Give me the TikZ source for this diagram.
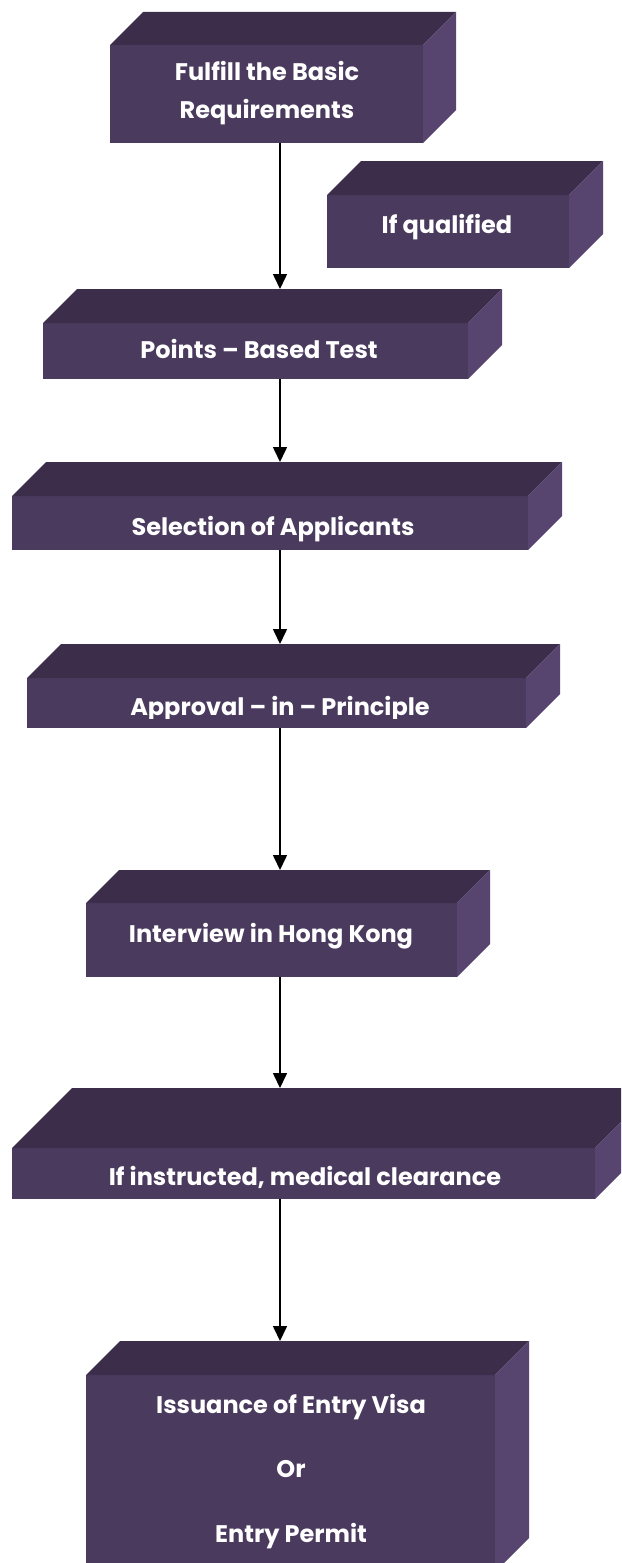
\documentclass[tikz,border=0pt]{standalone}
\usepackage{fontspec}
\setmainfont{Poppins}
\usetikzlibrary{arrows.meta,calc}
\definecolor{frontc}{HTML}{4A3A5E}
\definecolor{topc}{HTML}{3C2D4A}
\definecolor{sidec}{HTML}{574570}
\tikzset{
  frontface/.style={fill=frontc, draw=none, inner sep=0pt, outer sep=0pt},
  lbl/.style={text=white, font=\fontsize{24}{28}\selectfont\bfseries, inner sep=0pt, anchor=base},
  arr/.style={line width=1.6pt, -{Triangle[length=15pt,width=14pt]}},
}
% name, x1, y1, x2, y2, depth
\newcommand\cubebox[6]{%
  \node[frontface, minimum width={(#4-#2)*1pt}, minimum height={(#5-#3)*1pt}] (#1) at ({(#2+#4)/2},{(#3+#5)/2}) {};
  \fill[topc] (#1.north west) -- ++(#6,-#6) -- ([shift={(#6,-#6)}]#1.north east) -- (#1.north east) -- cycle;
  \fill[sidec] (#1.north east) -- ++(#6,-#6) -- ([shift={(#6,-#6)}]#1.south east) -- (#1.south east) -- cycle;
  \coordinate (#1-top) at ([shift={(#6,-#6)}]#1.north);
}
\begin{document}
\begin{tikzpicture}[x=1pt,y=-1pt]
\path[use as bounding box, clip] (0,0) rectangle (621,1563);
\fill[white] (0,0) rectangle (621,1563);
\coordinate (ax) at (280,0);

\cubebox{b1}{110}{45}{423}{143}{33}
\cubebox{b2}{327}{195}{569}{268}{34}
\cubebox{b3}{43}{323}{468}{379}{34}
\cubebox{b4}{12}{496}{528}{550}{34}
\cubebox{b5}{27}{678}{526}{728}{34}
\cubebox{b6}{86}{903}{457}{977}{33}
\cubebox{b7}{12}{1148}{595}{1199}{60}
\cubebox{b8}{86}{1375}{495}{1572}{34}

\node[lbl] (t1a) at (267,81) {Fulfill the Basic};
\node[lbl] (t1b) at (267,118) {Requirements};
\node[lbl] (t2) at (447,233) {If qualified};
\node[lbl] (t3) at (259,358) {Points – Based Test};
\node[lbl] (t4) at (273,535) {Selection of Applicants};
\begin{scope}
\clip (0,600) rectangle (621,718);
\node[lbl] (t5) at (280,715) {Approval – in – Principle};
\end{scope}
\node[lbl] (t6) at (271,942) {Interview in Hong Kong};
\node[lbl] (t7) at (305,1185) {If instructed, medical clearance};
\node[lbl] (t8a) at (291,1413) {Issuance of Entry Visa};
\node[lbl] (t8b) at (291,1477) {Or};
\node[lbl] (t8c) at (291,1542) {Entry Permit};

\draw[arr] (b1.south -| ax) -- (b3-top -| ax);
\draw[arr] (b3.south -| ax) -- (b4-top -| ax);
\draw[arr] (b4.south -| ax) -- (b5-top -| ax);
\draw[arr] (b5.south -| ax) -- (b6-top -| ax);
\draw[arr] (b6.south -| ax) -- (b7-top -| ax);
\draw[arr] (b7.south -| ax) -- (b8-top -| ax);
\end{tikzpicture}
\end{document}
